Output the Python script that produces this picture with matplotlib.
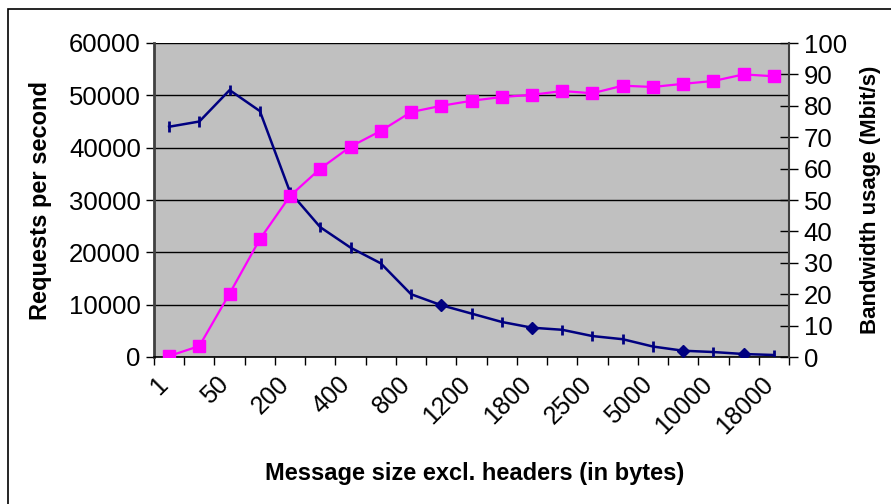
import numpy as np
import matplotlib
matplotlib.use("Agg")
import matplotlib.pyplot as plt
import matplotlib.transforms as mtransforms
from matplotlib.patches import Rectangle

plt.rcParams['font.family'] = ['Liberation Sans', 'DejaVu Sans']

# message sizes (only every second one is labelled on the axis)
sizes = ['1', '10', '50', '100', '200', '300', '400', '600', '800', '1000', '1200',
         '1500', '1800', '2000', '2500', '4000', '5000', '8000', '10000', '14000', '18000']
requests = [44000, 45000, 51000, 47000, 31500, 24800, 20900, 17900, 12000, 9900, 8300,
            6700, 5600, 5200, 4000, 3400, 2000, 1200, 950, 570, 380]
req_err = [1000, 1000, 1000, 1000, 1000, 1000, 1000, 1000, 1000, 0, 1000,
           1000, 0, 1000, 1000, 1000, 1000, 0, 1000, 0, 1000]
bandwidth = [0.3, 3.5, 20.2, 37.5, 51.3, 60.0, 67.0, 72.0, 78.0, 80.0, 81.6,
             82.8, 83.5, 84.7, 84.0, 86.4, 86.0, 87.0, 87.9, 90.0, 89.4]

x = np.arange(len(sizes))

fig = plt.figure(figsize=(8.91, 5.04), dpi=100)
ax = fig.add_axes([154/891, 1-357/504, (789-154)/891, (357-43)/504])
ax.set_facecolor('#C0C0C0')

# requests per second (left axis)
diamonds = [i for i, e in enumerate(req_err) if e == 0]
ax.errorbar(x, requests, yerr=req_err, color='#000080', lw=1.8,
            marker='D', markersize=6.5, markevery=diamonds,
            elinewidth=2, capsize=0, zorder=3)
ax.set_ylim(0, 60000)
ax.set_yticks(range(0, 60001, 10000))
ax.yaxis.grid(True, color='black', lw=1)
ax.set_axisbelow(True)
ax.set_xlim(-0.5, len(sizes) - 0.5)

# category ticks sit between the categories, every second category gets a slanted label
ax.set_xticks(np.arange(-0.5, len(sizes)))
ax.set_xticklabels([])
ax.tick_params(axis='x', length=6, width=1, direction='out')
lab_trans = mtransforms.offset_copy(ax.get_xaxis_transform(), fig=fig,
                                    x=-9.5, y=-11, units='points')
for xi, s in zip(x[::2], sizes[::2]):
    ax.text(xi, 0, s, transform=lab_trans, rotation=45, ha='right', va='top',
            rotation_mode='anchor', fontsize=18, clip_on=False)

ax.tick_params(axis='y', labelsize=18.5, length=6, width=1)
ax.set_ylabel('Requests per second', fontsize=17, fontweight='bold')
ax.yaxis.set_label_coords(-0.1795, 0.5)
ax.set_xlabel('Message size excl. headers (in bytes)', fontsize=17, fontweight='bold')
ax.xaxis.set_label_coords(0.5047, -0.3726)
ax.xaxis.label.set_va('center')
ax.yaxis.label.set_va('center')
for s in ['top', 'right']:
    ax.spines[s].set_visible(False)
ax.spines['left'].set_color('#404040')
ax.spines['left'].set_linewidth(2)
ax.spines['bottom'].set_linewidth(1.2)

# bandwidth (right axis)
ax2 = ax.twinx()
ax2.plot(x, bandwidth, color='#FF00FF', lw=1.6, marker='s', markersize=9,
         zorder=4)
ax2.set_ylim(0, 100)
ax2.set_yticks(range(0, 101, 10))
ax2.tick_params(axis='y', labelsize=18.5, direction='inout', length=13, width=1, pad=4)
ax2.set_ylabel('Bandwidth usage (Mbit/s)', fontsize=16, fontweight='bold')
ax2.yaxis.set_label_coords(1.1276, 0.5)
ax2.yaxis.label.set_va('center')
for s in ['top', 'left', 'bottom']:
    ax2.spines[s].set_visible(False)
ax2.spines['right'].set_color('#404040')
ax2.spines['right'].set_linewidth(1.5)
ax2.set_xlim(-0.5, len(sizes) - 0.5)

# outer chart border
fig.add_artist(Rectangle((8/891, -0.1), 1.1, 1 - 9/504 + 0.1, transform=fig.transFigure,
                         fill=False, edgecolor='black', lw=1.2))

fig.savefig('out.png', dpi=100)
